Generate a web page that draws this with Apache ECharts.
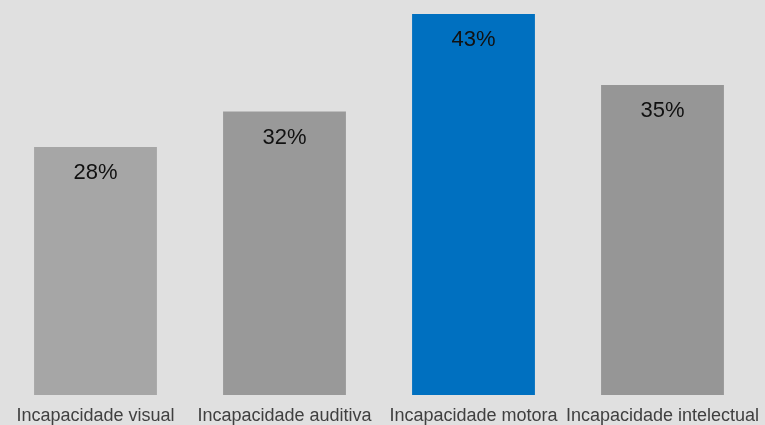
<!DOCTYPE html>
<html><head><meta charset="utf-8">
<script src="https://cdn.jsdelivr.net/npm/echarts@6/dist/echarts.min.js"></script>
<style>html,body{margin:0;padding:0;background:#e0e0e0}#c{width:765px;height:425px}</style>
</head><body><div id="c"></div>
<script>
const categories = ["Incapacidade visual","Incapacidade auditiva","Incapacidade motora","Incapacidade intelectual"];
const values = [28, 32, 43, 35];
const colors = ["#a6a6a6","#999999","#0070c0","#969696"];
const chart = echarts.init(document.getElementById('c'));
chart.setOption({
  backgroundColor:'#e0e0e0',
  animation:false,
  grid:{left:1,right:8,top:14,bottom:29},
  xAxis:{type:'category',data:categories,axisLine:{show:false},axisTick:{show:false},
    axisLabel:{interval:0,color:'#404040',fontFamily:'Liberation Sans, Arial',fontSize:18,margin:12}},
  yAxis:{type:'value',min:0,max:43,show:false,splitLine:{show:false}},
  series:[{type:'bar',barWidth:'65%',
    data:values.map((v,i)=>({value:v,itemStyle:{color:colors[i]}})),
    label:{show:true,position:'insideTop',distance:15,formatter:p=>p.value+'%',color:'#111111',fontFamily:'Liberation Sans, Arial',fontSize:22}
  }]
});
</script></body></html>
